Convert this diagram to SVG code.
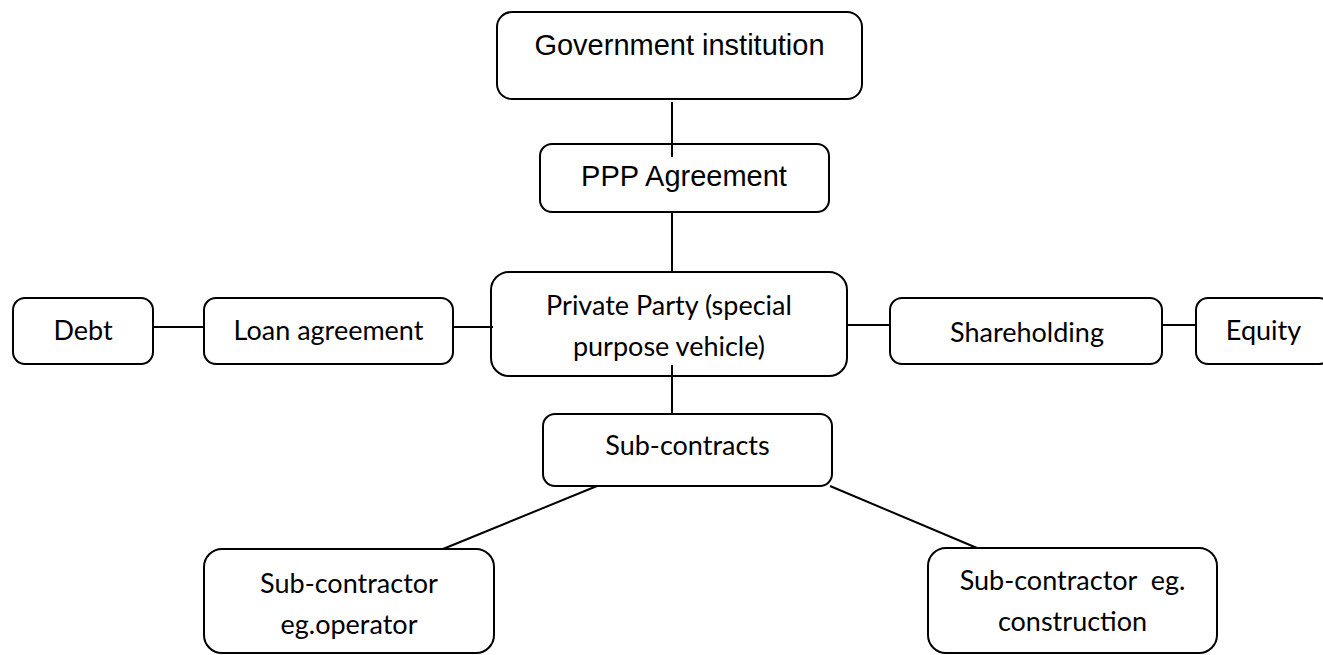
<svg xmlns="http://www.w3.org/2000/svg" width="1323" height="655" viewBox="0 0 1323 655">
  <style>
    .box { fill: #ffffff; stroke: #000000; stroke-width: 2; }
    .link { stroke: #000000; stroke-width: 2; fill: none; }
    .sans { font-family: "Liberation Sans", Arial, sans-serif; font-size: 29px; fill: #000000; text-anchor: middle; }
    .body { font-family: Lato, "Open Sans", sans-serif; font-size: 27px; fill: #000000; text-anchor: middle; white-space: pre; }
  </style>
  <rect width="1323" height="655" fill="#ffffff"/>

  <g id="government">
    <rect class="box" x="497" y="12" width="365" height="87" rx="15"/>
    <text class="sans" x="679.5" y="55">Government institution</text>
  </g>

  <g id="ppp-agreement">
    <rect class="box" x="540" y="144" width="289" height="68" rx="12"/>
    <text class="sans" x="684" y="186">PPP Agreement</text>
  </g>

  <g id="private-party">
    <rect class="box" x="491" y="272" width="356" height="104" rx="18"/>
    <text class="body" x="669" y="315">Private Party (special</text>
    <text class="body" x="669" y="356">purpose vehicle)</text>
  </g>

  <g id="debt">
    <rect class="box" x="13" y="298" width="140" height="66" rx="12"/>
    <text class="body" x="83" y="340">Debt</text>
  </g>

  <g id="loan-agreement">
    <rect class="box" x="204" y="298" width="249" height="66" rx="12"/>
    <text class="body" x="328.5" y="340">Loan agreement</text>
  </g>

  <g id="shareholding">
    <rect class="box" x="890" y="298" width="272" height="66" rx="12"/>
    <text class="body" x="1027" y="342">Shareholding</text>
  </g>

  <g id="equity">
    <rect class="box" x="1196" y="298" width="135" height="66" rx="12"/>
    <text class="body" x="1263.5" y="340">Equity</text>
  </g>

  <g id="sub-contracts">
    <rect class="box" x="543" y="414" width="289" height="72" rx="12"/>
    <text class="body" x="687.5" y="455">Sub-contracts</text>
  </g>

  <g id="operator">
    <rect class="box" x="204" y="549" width="290" height="104" rx="18"/>
    <text class="body" x="349" y="593">Sub-contractor</text>
    <text class="body" x="349" y="634">eg.operator</text>
  </g>

  <g id="construction">
    <rect class="box" x="928" y="548" width="289" height="105" rx="18"/>
    <text class="body" x="1072.5" y="590">Sub-contractor  eg.</text>
    <text class="body" x="1072.5" y="631">construction</text>
  </g>

  <g id="connectors">
    <line class="link" x1="672" y1="102" x2="672" y2="157"/>
    <line class="link" x1="672" y1="212" x2="672" y2="272"/>
    <line class="link" x1="672" y1="365" x2="672" y2="414"/>
    <line class="link" x1="153" y1="327" x2="204" y2="327"/>
    <line class="link" x1="453" y1="327" x2="493" y2="327"/>
    <line class="link" x1="847" y1="325" x2="890" y2="325"/>
    <line class="link" x1="1162" y1="325" x2="1196" y2="325"/>
    <line class="link" x1="597" y1="486" x2="443" y2="549"/>
    <line class="link" x1="830" y1="486" x2="977" y2="548"/>
  </g>
</svg>
